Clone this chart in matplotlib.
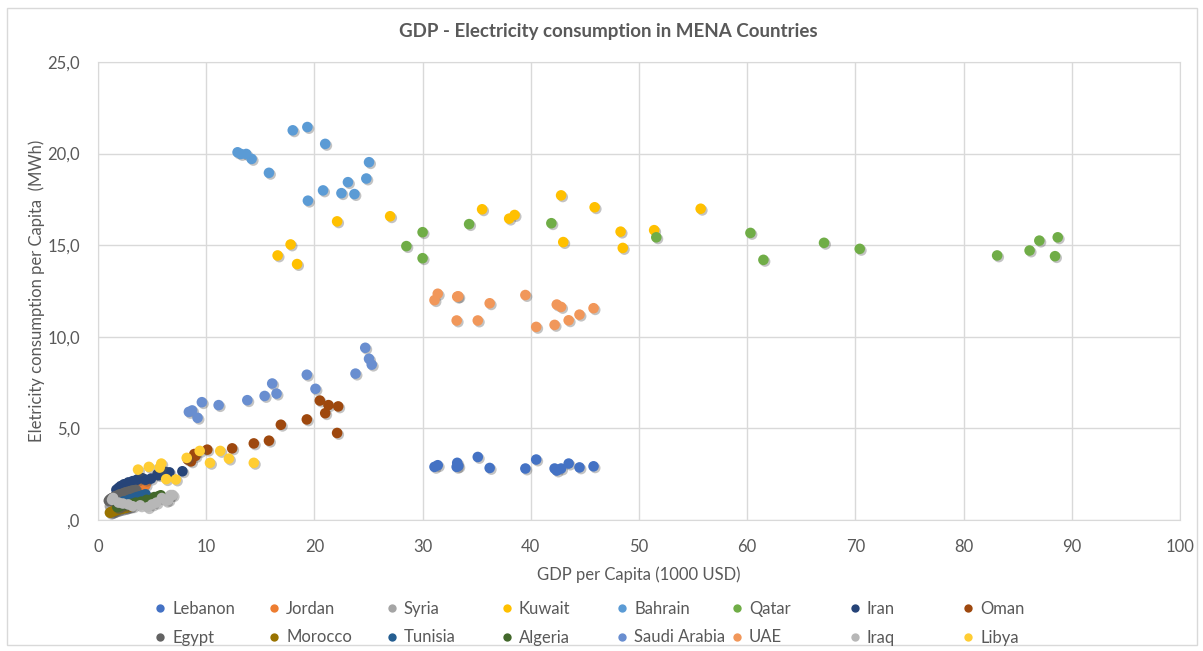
import matplotlib
matplotlib.use('Agg')
import matplotlib.pyplot as plt
import matplotlib.patheffects as pe
from matplotlib.lines import Line2D
from matplotlib.patches import Rectangle

plt.rcParams['font.family'] = ['Lato', 'DejaVu Sans']

# Data (GDP per capita in 1000 USD, electricity in MWh per capita)
lebanon_gdp = [31.1, 31.4, 33.2, 33.3, 33.15, 35.1, 36.2, 39.5, 40.5, 42.2, 42.4, 42.8, 43.5, 44.5, 45.8]
lebanon_elec = [2.9, 2.99, 3.12, 2.95, 2.9, 3.44, 2.84, 2.81, 3.3, 2.81, 2.7, 2.81, 3.08, 2.87, 2.93]

jordan_gdp = [1.9, 2.1, 2.3, 2.5, 2.7, 2.9, 3.1, 3.3, 3.5, 3.7, 3.9, 4.1, 4.2, 4.4, 3.8]
jordan_elec = [1.4, 1.45, 1.5, 1.55, 1.6, 1.65, 1.7, 1.75, 1.8, 1.84, 1.88, 1.9, 1.95, 1.92, 1.78]

syria_gdp = [1.1, 1.2, 1.3, 1.5, 1.6, 1.8, 2.0, 2.2, 2.4, 2.6, 2.8, 2.5, 2.1, 1.7, 1.4]
syria_elec = [0.75, 0.8, 0.82, 0.85, 0.9, 0.95, 1.0, 1.05, 1.08, 1.1, 1.12, 0.95, 0.85, 0.7, 0.65]

kuwait_gdp = [16.6, 17.8, 18.4, 22.1, 27.0, 35.5, 38.0, 38.5, 42.8, 43.0, 45.9, 48.3, 48.5, 51.4, 55.7]
kuwait_elec = [14.44, 15.04, 13.97, 16.3, 16.58, 16.96, 16.45, 16.65, 17.72, 15.17, 17.07, 15.74, 14.85, 15.82, 16.99]

bahrain_gdp = [12.9, 13.2, 13.7, 14.2, 15.8, 18.0, 19.35, 19.4, 20.8, 21.0, 22.5, 23.1, 23.7, 24.8, 25.05]
bahrain_elec = [20.07, 19.98, 19.98, 19.71, 18.95, 21.27, 21.45, 17.43, 17.99, 20.53, 17.84, 18.44, 17.79, 18.64, 19.53]

qatar_gdp = [28.5, 30.0, 30.0, 34.3, 41.9, 51.6, 60.3, 61.5, 67.1, 70.4, 83.1, 86.1, 87.0, 88.7, 88.45]
qatar_elec = [14.95, 15.71, 14.29, 16.15, 16.2, 15.43, 15.67, 14.2, 15.13, 14.8, 14.44, 14.71, 15.25, 15.43, 14.4]

iran_gdp = [1.7, 1.9, 2.1, 2.4, 2.8, 3.2, 3.6, 4.1, 4.4, 4.9, 5.5, 5.6, 6.2, 6.6, 7.8]
iran_elec = [1.65, 1.75, 1.85, 1.95, 2.05, 2.12, 2.2, 2.28, 2.2, 2.26, 2.5, 2.45, 2.63, 2.6, 2.66]

oman_gdp = [8.6, 9.0, 10.1, 12.4, 14.4, 15.8, 16.9, 19.3, 20.5, 21.0, 21.3, 22.1, 22.2, 8.3, 8.9]
oman_elec = [3.2, 3.5, 3.84, 3.91, 4.18, 4.33, 5.2, 5.49, 6.52, 5.83, 6.27, 4.75, 6.2, 3.3, 3.6]

egypt_gdp = [1.0, 1.1, 1.2, 1.3, 1.5, 1.6, 1.8, 2.0, 2.3, 2.5, 2.7, 2.9, 3.1, 3.3, 3.5]
egypt_elec = [1.05, 1.12, 1.16, 1.2, 1.25, 1.3, 1.34, 1.4, 1.45, 1.5, 1.53, 1.56, 1.6, 1.62, 1.64]

morocco_gdp = [1.1, 1.2, 1.3, 1.4, 1.5, 1.6, 1.8, 1.9, 2.1, 2.3, 2.5, 2.6, 2.7, 2.9, 3.0]
morocco_elec = [0.4, 0.42, 0.45, 0.47, 0.5, 0.52, 0.55, 0.58, 0.6, 0.63, 0.66, 0.68, 0.7, 0.72, 0.75]

tunisia_gdp = [2.2, 2.3, 2.5, 2.7, 2.9, 3.0, 3.2, 3.4, 3.6, 3.8, 4.0, 4.1, 4.2, 4.3, 4.4]
tunisia_elec = [0.95, 1.0, 1.02, 1.05, 1.1, 1.12, 1.15, 1.2, 1.25, 1.28, 1.3, 1.33, 1.35, 1.37, 1.4]

algeria_gdp = [1.8, 1.8, 2.0, 2.1, 2.6, 3.1, 3.5, 4.0, 4.6, 5.3, 5.5, 4.5, 5.2, 5.6, 5.8]
algeria_elec = [0.7, 0.72, 0.75, 0.78, 0.82, 0.88, 0.95, 1.0, 1.05, 1.15, 1.2, 1.1, 1.25, 1.3, 1.35]

saudi_gdp = [8.4, 8.7, 9.2, 9.6, 11.15, 13.8, 15.4, 16.1, 16.5, 19.3, 20.1, 23.8, 24.7, 25.05, 25.3]
saudi_elec = [5.9, 5.98, 5.58, 6.43, 6.27, 6.54, 6.77, 7.45, 6.9, 7.93, 7.16, 7.99, 9.4, 8.8, 8.48]

uae_gdp = [31.1, 31.4, 33.2, 33.3, 33.15, 35.1, 36.2, 39.5, 40.5, 42.2, 42.4, 42.8, 43.5, 44.5, 45.8]
uae_elec = [12.0, 12.35, 12.19, 12.21, 10.89, 10.89, 11.83, 12.28, 10.54, 10.65, 11.76, 11.63, 10.9, 11.21, 11.56]

iraq_gdp = [1.3, 1.4, 2.3, 3.2, 3.9, 4.6, 5.0, 5.9, 6.3, 6.7, 6.9, 6.5, 5.4, 2.8, 1.9]
iraq_elec = [1.1, 1.2, 0.9, 0.75, 0.8, 0.7, 0.85, 1.2, 1.05, 1.36, 1.36, 1.1, 0.95, 0.85, 0.95]

libya_gdp = [3.7, 4.7, 5.7, 5.85, 6.3, 7.2, 8.2, 9.4, 10.35, 11.3, 12.1, 14.4]
libya_elec = [2.75, 2.9, 2.86, 3.08, 2.23, 2.21, 3.39, 3.77, 3.12, 3.77, 3.35, 3.12]

countries = ['Lebanon', 'Jordan', 'Syria', 'Kuwait', 'Bahrain', 'Qatar', 'Iran', 'Oman',
             'Egypt', 'Morocco', 'Tunisia', 'Algeria', 'Saudi Arabia', 'UAE', 'Iraq', 'Libya']
gdp = [lebanon_gdp, jordan_gdp, syria_gdp, kuwait_gdp, bahrain_gdp, qatar_gdp, iran_gdp, oman_gdp,
       egypt_gdp, morocco_gdp, tunisia_gdp, algeria_gdp, saudi_gdp, uae_gdp, iraq_gdp, libya_gdp]
elec = [lebanon_elec, jordan_elec, syria_elec, kuwait_elec, bahrain_elec, qatar_elec, iran_elec, oman_elec,
        egypt_elec, morocco_elec, tunisia_elec, algeria_elec, saudi_elec, uae_elec, iraq_elec, libya_elec]
colors = ['#4472C4', '#ED7D31', '#A5A5A5', '#FFC000', '#5B9BD5', '#70AD47', '#264478', '#9E480E',
          '#636363', '#997300', '#255E91', '#43682B', '#698ED0', '#F1975A', '#B7B7B7', '#FFCD33']

text_col = '#595959'
grid_col = '#D9D9D9'

fig = plt.figure(figsize=(12.03, 6.51), dpi=100)
ax = fig.add_axes([98 / 1203, 1 - 520 / 651, 1082 / 1203, 458 / 651])

# outer chart border
fig.add_artist(Rectangle((7 / 1203, 6 / 651), 1190 / 1203, 637 / 651, transform=fig.transFigure,
                         fill=False, edgecolor=grid_col, linewidth=1))

shadow = [pe.SimplePatchShadow(offset=(1.2, -1.2), shadow_rgbFace='#555555', alpha=0.35), pe.Normal()]

# later series drawn on top, as in Excel
for i in range(len(countries)):
    ax.scatter(gdp[i], elec[i], s=58, color=colors[i], edgecolors='none', zorder=3,
               path_effects=shadow)

ax.set_xlim(0, 100)
ax.set_ylim(0, 25)
ax.set_xticks(range(0, 101, 10))
ax.set_yticks([0, 5, 10, 15, 20, 25])
ax.set_yticklabels([',0', '5,0', '10,0', '15,0', '20,0', '25,0'])
ax.grid(True, color=grid_col, linewidth=1)
ax.set_axisbelow(True)
for s in ax.spines.values():
    s.set_color(grid_col)
ax.tick_params(length=0, colors=text_col, labelsize=12, pad=14)
ax.tick_params(axis='y', pad=13)

fig.text(608 / 1203, 1 - 31 / 651, 'GDP - Electricity consumption in MENA Countries', fontsize=13.5,
         fontweight='bold', color=text_col, ha='center', va='center')
ax.set_xlabel('GDP per Capita (1000 USD)', fontsize=12, color=text_col, labelpad=8)
ax.set_ylabel('Eletricity consumption per Capita  (MWh)', fontsize=12, color=text_col, labelpad=2)

# legend: 2 rows x 8 columns, one small legend per column
col_x = [152, 266, 384, 499, 614, 729, 847, 960]
for c in range(8):
    handles = []
    for r in range(2):
        i = r * 8 + c
        handles.append(Line2D([], [], marker='o', linestyle='none', markersize=6,
                              markerfacecolor=colors[i], markeredgecolor='none', label=countries[i]))
    fig.legend(handles=handles, loc='upper left', bbox_to_anchor=(col_x[c] / 1203, 1 - 601 / 651),
               frameon=False, fontsize=12, labelcolor=text_col, handletextpad=0.2,
               handlelength=1.0, labelspacing=0.75, borderaxespad=0, borderpad=0)

fig.savefig('out.png', dpi=100)
